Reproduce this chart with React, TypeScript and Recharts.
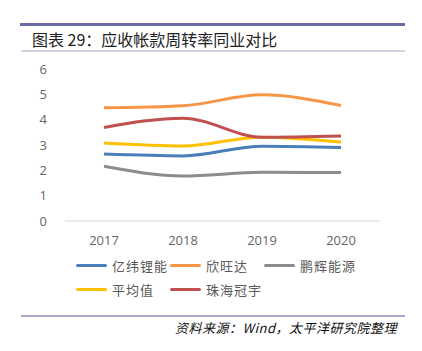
import React from "react";
import { LineChart, Line, XAxis, YAxis, Legend } from "recharts";

const years = ["2017", "2018", "2019", "2020"];
const yiwei = [2.64, 2.57, 2.95, 2.9];
const xinwangda = [4.47, 4.55, 4.98, 4.56];
const penghui = [2.16, 1.78, 1.92, 1.91];
const average = [3.08, 2.96, 3.31, 3.12];
const zhuhai = [3.69, 4.06, 3.31, 3.36];
const yTicks = [0, 1, 2, 3, 4, 5, 6];

const seriesList = [
  { key: "亿纬锂能", values: yiwei, color: "#4a7ebb" },
  { key: "欣旺达", values: xinwangda, color: "#f79646" },
  { key: "鹏辉能源", values: penghui, color: "#8c8c8c" },
  { key: "平均值", values: average, color: "#ffc000" },
  { key: "珠海冠宇", values: zhuhai, color: "#c0504d" },
];

const data = years.map((year, i) => {
  const row: Record<string, string | number> = { year };
  seriesList.forEach((s) => {
    row[s.key] = s.values[i];
  });
  return row;
});

const legendRows = [seriesList.slice(0, 3), seriesList.slice(3)];

const LegendContent = () => (
  <div style={{ fontFamily: "'Noto Sans CJK SC', sans-serif", fontSize: 13, color: "#595959" }}>
    {legendRows.map((row, r) => (
      <div key={r} style={{ display: "flex", height: 24, alignItems: "center" }}>
        {row.map((s) => (
          <div key={s.key} style={{ display: "flex", alignItems: "center", width: 94 }}>
            <span
              style={{
                display: "inline-block",
                width: 31,
                height: 3,
                borderRadius: 2,
                background: s.color,
                marginRight: 5,
              }}
            />
            <span style={{ letterSpacing: 1 }}>{s.key}</span>
          </div>
        ))}
      </div>
    ))}
  </div>
);

export default function App() {
  return (
    <div
      style={{
        position: "absolute",
        left: 0,
        top: 0,
        width: 422,
        height: 351,
        background: "#fff",
        overflow: "hidden",
      }}
    >
      <div style={{ position: "absolute", left: 20, top: 23, width: 385, height: 3, background: "#6b6ca6" }} />
      <div
        style={{
          position: "absolute",
          left: 32,
          top: 27,
          fontFamily: "'Noto Sans CJK SC', sans-serif",
          fontSize: 16,
          color: "#222",
          whiteSpace: "nowrap",
        }}
      >
        图表 29：应收帐款周转率同业对比
      </div>
      <div style={{ position: "absolute", left: 21, top: 50, width: 384, height: 2, background: "#d3d3e3" }} />

      <div style={{ position: "absolute", left: 0, top: 0 }}>
        <LineChart
          width={422}
          height={351}
          data={data}
          margin={{ top: 69, right: 42, left: 0, bottom: 105 }}
        >
          <XAxis
            dataKey="year"
            padding={{ left: 39, right: 39 }}
            axisLine={{ stroke: "#d9d9d9" }}
            tickLine={false}
            tick={{ fill: "#666", fontSize: 13, fontFamily: "'Open Sans', sans-serif" }}
            tickMargin={9}
            height={25}
          />
          <YAxis
            width={65}
            domain={[0, 6]}
            ticks={yTicks}
            axisLine={false}
            tickLine={false}
            tickSize={0}
            tickMargin={18}
            interval={0}
            tick={{ fill: "#666", fontSize: 13, fontFamily: "'Open Sans', sans-serif" }}
          />
          <Legend
            layout="horizontal"
            verticalAlign="middle"
            align="center"
            content={<LegendContent />}
            wrapperStyle={{ left: 76, top: 253, width: 300 }}
          />
          {seriesList.map((s) => (
            <Line
              key={s.key}
              type="monotone"
              dataKey={s.key}
              stroke={s.color}
              strokeWidth={3}
              dot={false}
              activeDot={false}
              isAnimationActive={false}
            />
          ))}
        </LineChart>
      </div>

      <div style={{ position: "absolute", left: 21, top: 315, width: 384, height: 2, background: "#aaaac8" }} />
      <div
        style={{
          position: "absolute",
          right: 25,
          top: 318,
          fontFamily: "'Noto Sans CJK SC', sans-serif",
          fontSize: 13,
          fontStyle: "italic",
          letterSpacing: 0.5,
          color: "#111",
          whiteSpace: "nowrap",
        }}
      >
        资料来源：Wind，太平洋研究院整理
      </div>
    </div>
  );
}
